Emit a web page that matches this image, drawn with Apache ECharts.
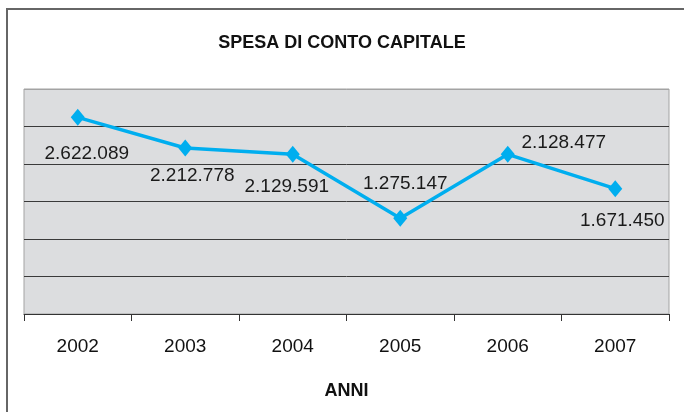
<!DOCTYPE html>
<html>
<head>
<meta charset="utf-8">
<title>Spesa di conto capitale</title>
<script src="https://cdn.jsdelivr.net/npm/echarts@6/dist/echarts.min.js"></script>
<style>
  html, body { margin: 0; padding: 0; background: #fff; }
  #chart { width: 684px; height: 412px; }
</style>
</head>
<body>
<div id="chart"></div>
<script>
  // dati
  const anni = ['2002', '2003', '2004', '2005', '2006', '2007']
  const spesa = [2622089, 2212778, 2129591, 1275147, 2128477, 1671450]
  const etichette = ['2.622.089', '2.212.778', '2.129.591', '1.275.147', '2.128.477', '1.671.450']
  // spostamento delle etichette rispetto al punto
  const labelOffset = [[9, 36], [7, 28], [-6, 32], [5, -35], [56, -12], [7, 32]]

  const font = "'Liberation Sans', Arial, sans-serif"
  const fontNarrow = "'Liberation Sans Narrow', 'Arial Narrow', 'Liberation Sans', Arial, sans-serif"

  let myChart = echarts.init(document.getElementById('chart'))

  let seriesData = spesa.map((v, i) => {
    return {
      value: v,
      label: {
        show: true,
        position: 'inside',
        offset: labelOffset[i],
        formatter: etichette[i]
      }
    }
  })

  myChart.setOption({
    animation: false,
    backgroundColor: '#fff',
    title: {
      text: 'SPESA DI CONTO CAPITALE',
      left: 'center',
      top: 29,
      textStyle: {
        fontFamily: fontNarrow,
        fontWeight: 'bold',
        fontSize: 18,
        color: '#111'
      }
    },
    graphic: [{
      type: 'rect',
      silent: true,
      z: -1,
      shape: { x: 7, y: 9, width: 720, height: 440 },
      style: { fill: 'none', stroke: '#666', lineWidth: 2 }
    }],
    grid: {
      left: 24,
      right: 15,
      top: 89,
      bottom: 98,
      show: true,
      backgroundColor: '#dcdddf',
      borderColor: '#a3a3a3',
      borderWidth: 1
    },
    xAxis: {
      type: 'category',
      data: anni,
      boundaryGap: true,
      name: 'ANNI',
      nameLocation: 'middle',
      nameGap: 68,
      nameTextStyle: {
        fontFamily: fontNarrow,
        fontWeight: 'bold',
        fontSize: 18,
        color: '#111'
      },
      axisLine: {
        show: true,
        lineStyle: { color: '#333', width: 1 }
      },
      axisTick: {
        show: true,
        length: 7,
        alignWithLabel: false,
        lineStyle: { color: '#333' }
      },
      axisLabel: {
        fontFamily: font,
        fontSize: 19,
        color: '#111',
        margin: 23
      }
    },
    yAxis: {
      type: 'value',
      min: 0,
      max: 3000000,
      interval: 500000,
      axisLine: { show: false },
      axisTick: { show: false },
      axisLabel: { show: false },
      splitLine: {
        show: true,
        lineStyle: {
          color: ['#333', '#3a3a3a', '#3a3a3a', '#3a3a3a', '#3a3a3a', '#3a3a3a', '#a3a3a3'],
          width: 1
        }
      }
    },
    series: [{
      type: 'line',
      data: seriesData,
      symbol: 'diamond',
      symbolSize: [14, 17],
      lineStyle: { color: '#00aeef', width: 3.5 },
      itemStyle: { color: '#00aeef' },
      label: {
        fontFamily: font,
        fontSize: 19,
        color: '#1a1a1a'
      }
    }]
  })
</script>
</body>
</html>
